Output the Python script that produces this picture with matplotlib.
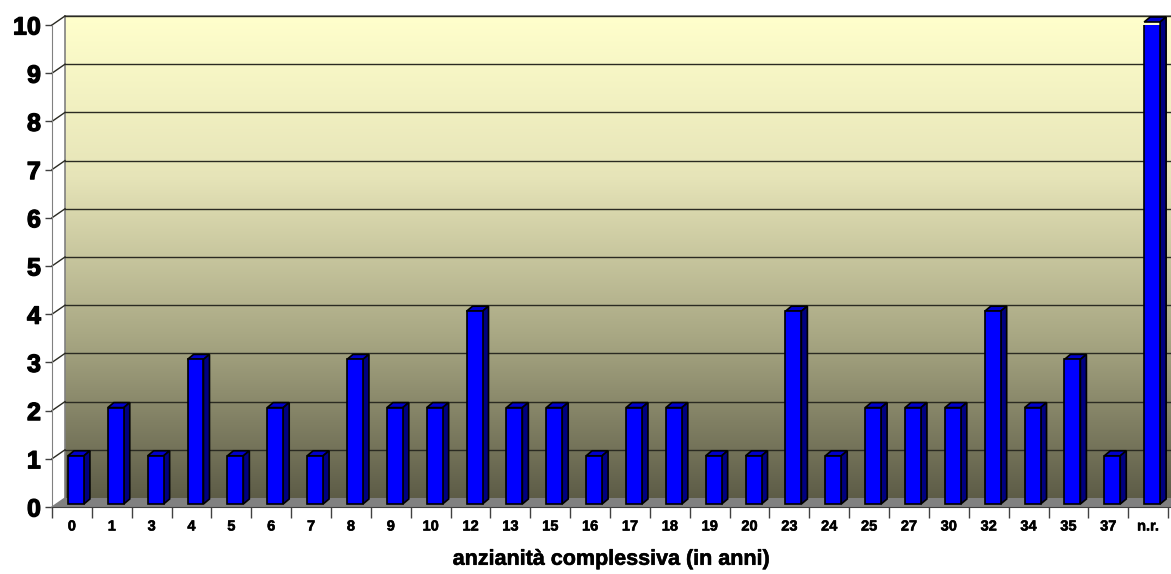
import numpy as np
import matplotlib
matplotlib.use("Agg")
import matplotlib.pyplot as plt
import matplotlib.patheffects as pe
from matplotlib.patches import Polygon
from matplotlib.colors import LinearSegmentedColormap

# ===================== DATA =====================
categorie = ['0', '1', '3', '4', '5', '6', '7', '8', '9', '10', '12', '13', '15', '16',
             '17', '18', '19', '20', '23', '24', '25', '27', '30', '32', '34', '35', '37', 'n.r.']
valori = [1, 2, 1, 3, 1, 2, 1, 3, 2, 2, 4, 2, 2, 1,
          2, 2, 1, 1, 4, 1, 2, 2, 2, 4, 2, 3, 1, 10]
y_ticks = list(range(0, 11))
x_titolo = 'anzianità complessiva (in anni)'

# ===================== STILE / GEOMETRIA 3D =====================
plt.rcParams['font.family'] = ['Liberation Sans', 'DejaVu Sans']
W, H = 1171, 574
px_cat = 39.86     # pixel per categoria
px_val = 48.2      # pixel per unita
wall_dx, wall_dy = 13 / px_cat, 9 / px_val      # profondita parete di fondo
bar_dx, bar_dy = 6 / px_cat, 5 / px_val         # profondita barre
bar_shift, bar_base = 4 / px_cat, 3 / px_val

fig = plt.figure(figsize=(W / 100, H / 100), dpi=100)
ax = fig.add_axes([52 / W, (H - 507) / H, (W - 52) / W, 482 / H])
x0 = -0.5
x1 = x0 + (W - 52) / px_cat
ax.set_xlim(x0, x1)
ax.set_ylim(0, 10)
ax.patch.set_visible(False)

# parete di fondo con gradiente
cmap = LinearSegmentedColormap.from_list('bg', ['#5d5c47', '#a8a783', '#e6e4b8', '#ffffcc'])
grad = np.linspace(0, 1, 256).reshape(-1, 1)
img = ax.imshow(grad, cmap=cmap, origin='lower', aspect='auto',
                extent=(x0 + wall_dx, x1 + 1, wall_dy, 10 + wall_dy), zorder=0)
img.set_clip_on(False)

# pavimento
floor = Polygon([(x0, 0), (x1 + 1, 0), (x1 + 1 + wall_dx, wall_dy), (x0 + wall_dx, wall_dy)],
                closed=True, facecolor='#808080', edgecolor='none', zorder=1, clip_on=False)
ax.add_patch(floor)

# parete sinistra (bianca) e bordi
side = Polygon([(x0, 0), (x0 + wall_dx, wall_dy), (x0 + wall_dx, 10 + wall_dy), (x0, 10)],
               closed=True, facecolor='white', edgecolor='none', zorder=1, clip_on=False)
ax.add_patch(side)
ax.plot([x0 + wall_dx, x0 + wall_dx], [wall_dy, 10 + wall_dy], color='#808080', lw=1.2,
        zorder=2, clip_on=False)
ax.plot([x0 + wall_dx, x1 + 1], [10 + wall_dy, 10 + wall_dy], color='#808080', lw=1.2,
        zorder=2, clip_on=False)
ax.plot([x0, x0 + wall_dx], [0, wall_dy], color='#808080', lw=1, zorder=2, clip_on=False)

# griglia sul fondo e diagonali sul lato
for k in y_ticks[1:]:
    ax.plot([x0 + wall_dx, x1 + 1], [k + wall_dy, k + wall_dy], color='#2a2a22', lw=1,
            zorder=2, clip_on=False)
    ax.plot([x0, x0 + wall_dx], [k, k + wall_dy], color='#2a2a22', lw=1, zorder=2, clip_on=False)

# barre
xs = np.arange(len(categorie))
bars = ax.bar(xs + bar_shift, valori, width=0.4, bottom=bar_base, color='#0000ff',
              edgecolor='black', linewidth=1.2, zorder=4)
for r in bars:
    l, b = r.get_x(), r.get_y()
    w, h = r.get_width(), r.get_height()
    t, rr = b + h, l + w
    top = Polygon([(l, t), (l + bar_dx, t + bar_dy), (rr + bar_dx, t + bar_dy), (rr, t)],
                  closed=True, facecolor='#0000cc', edgecolor='black', lw=1.2, zorder=3,
                  clip_on=False)
    lat = Polygon([(rr, b), (rr, t), (rr + bar_dx, t + bar_dy), (rr + bar_dx, b + bar_dy)],
                  closed=True, facecolor='#000080', edgecolor='black', lw=1.2, zorder=3,
                  clip_on=False)
    ax.add_patch(top)
    ax.add_patch(lat)

# assi
for s in ['top', 'right']:
    ax.spines[s].set_visible(False)
ax.spines['left'].set_color('#808080')
ax.spines['bottom'].set_color('#404040')
ax.spines['left'].set_zorder(5)
ax.spines['bottom'].set_zorder(5)

spesso = [pe.withStroke(linewidth=0.9, foreground='black')]
ax.set_yticks(y_ticks)
ax.set_yticklabels([str(v) for v in y_ticks], fontsize=18, fontweight='bold')
for lab in ax.get_yticklabels():
    lab.set_path_effects(spesso)
ax.tick_params(axis='y', length=5, width=1, color='#404040', pad=3)

ax.set_xticks(xs)
ax.set_xticklabels(categorie, fontsize=10.5, fontweight='bold')
for lab in ax.get_xticklabels():
    lab.set_path_effects([pe.withStroke(linewidth=0.4, foreground='black')])
ax.set_xticks(np.arange(len(categorie) + 1) - 0.5, minor=True)
ax.tick_params(axis='x', which='major', length=0, pad=9)
ax.tick_params(axis='x', which='minor', length=8, width=1, color='#404040')
xl = ax.set_xlabel(x_titolo, fontsize=15.5, fontweight='bold', labelpad=11)
xl.set_path_effects([pe.withStroke(linewidth=0.4, foreground='black')])

fig.savefig('out.png', dpi=100)
